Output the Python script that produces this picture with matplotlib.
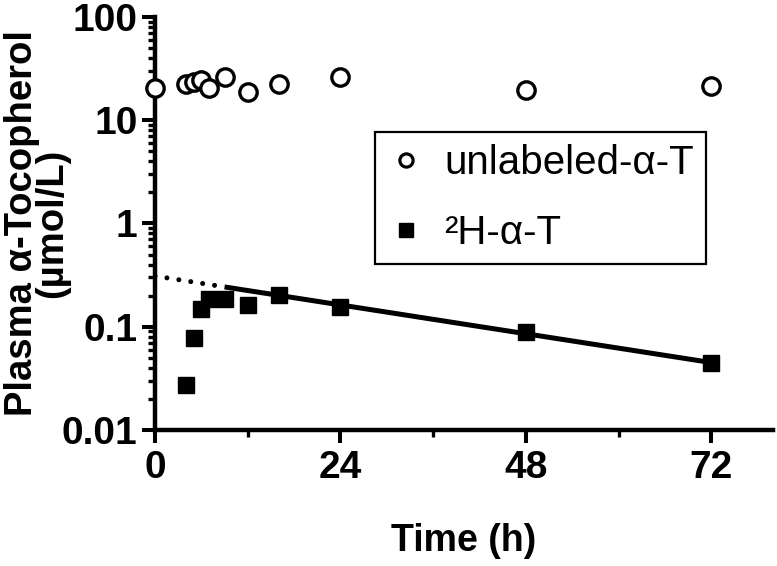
import numpy as np
import matplotlib.pyplot as plt
from matplotlib.lines import Line2D
from matplotlib.ticker import FixedLocator, LogLocator, NullFormatter

plt.rcParams['font.family'] = ['Liberation Sans', 'DejaVu Sans']

# plasma alpha-tocopherol (umol/L) vs time (h)
time_unlab = [0, 4, 5, 6, 7, 9, 12, 16, 24, 48, 72]
unlabeled_at = [20.4, 22.4, 23.7, 24.5, 20.7, 26.4, 18.9, 22.4, 26.1, 19.6, 21.5]

time_d = [4, 5, 6, 7, 9, 12, 16, 24, 48, 72]
d_at = [0.0274, 0.0786, 0.149, 0.186, 0.187, 0.161, 0.204, 0.155, 0.0887, 0.045]

# fitted elimination line: dotted back-extrapolation, then solid
fit_t = [0, 9, 72]
fit_y = [0.31, 0.243, 0.045]

xticks = [0, 24, 48, 72]
xminor = [12, 36, 60]
yticks = [0.01, 0.1, 1, 10, 100]
ytick_labels = ['0.01', '0.1', '1', '10', '100']

fig = plt.figure(figsize=(7.77, 5.66), dpi=100)
ax = fig.add_axes([0.1995, 0.2403, 0.7954, 0.7297])

ax.plot(fit_t[:2], fit_y[:2], color='black', lw=3.6,
        linestyle=(0, (0.01, 2.4)), dash_capstyle='round', zorder=2)
ax.plot(fit_t[1:], fit_y[1:], color='black', lw=3.6, solid_capstyle='butt', zorder=2)

ax.plot(time_unlab, unlabeled_at, 'o', ms=12.5, mfc='white', mec='black',
        mew=2.4, zorder=3, clip_on=False)
ax.plot(time_d, d_at, 's', ms=11.5, color='black', zorder=3, clip_on=False)

ax.set_yscale('log')
ax.set_ylim(0.01, 100)
ax.set_xlim(0, 80)

ax.set_yticks(yticks)
ax.set_yticklabels(ytick_labels)
ax.yaxis.set_minor_locator(LogLocator(base=10, subs=np.arange(2, 10)))
ax.yaxis.set_minor_formatter(NullFormatter())
ax.set_xticks(xticks)
ax.xaxis.set_minor_locator(FixedLocator(xminor))

for side in ['top', 'right']:
    ax.spines[side].set_visible(False)
for side in ['left', 'bottom']:
    ax.spines[side].set_linewidth(3.2)
    ax.spines[side].set_capstyle('projecting')

ax.tick_params(which='major', direction='out', length=9.5, width=2.9,
               labelsize=28, pad=3)
ax.tick_params(which='minor', direction='out', length=5, width=2.4)
ax.tick_params(axis='x', which='major', pad=5)
for lab in ax.get_xticklabels() + ax.get_yticklabels():
    lab.set_fontweight('bold')

ax.set_xlabel('Time (h)', fontsize=27, fontweight='bold', va='top')
ax.xaxis.set_label_coords(0.5, -0.225)
ax.set_ylabel('Plasma α-Tocopherol\n(µmol/L)', fontsize=27.5, fontweight='bold',
              linespacing=0.78, va='bottom')
ax.yaxis.set_label_coords(-0.138, 0.5)

handles = [
    Line2D([], [], marker='o', ls='none', ms=9.5, mfc='white', mec='black', mew=2.3),
    Line2D([], [], marker='s', ls='none', ms=10.5, color='black'),
]
leg = ax.legend(handles, ['unlabeled-α-T', '²H-α-T'], loc='upper left',
                bbox_to_anchor=(0.356, 0.7215), fontsize=29, frameon=True,
                fancybox=False, edgecolor='black', framealpha=1,
                labelspacing=0.8, handlelength=0.95, handletextpad=0.47,
                borderpad=0.3, borderaxespad=0)
leg.get_frame().set_linewidth(1.6)

fig.savefig('out.png', dpi=100)
